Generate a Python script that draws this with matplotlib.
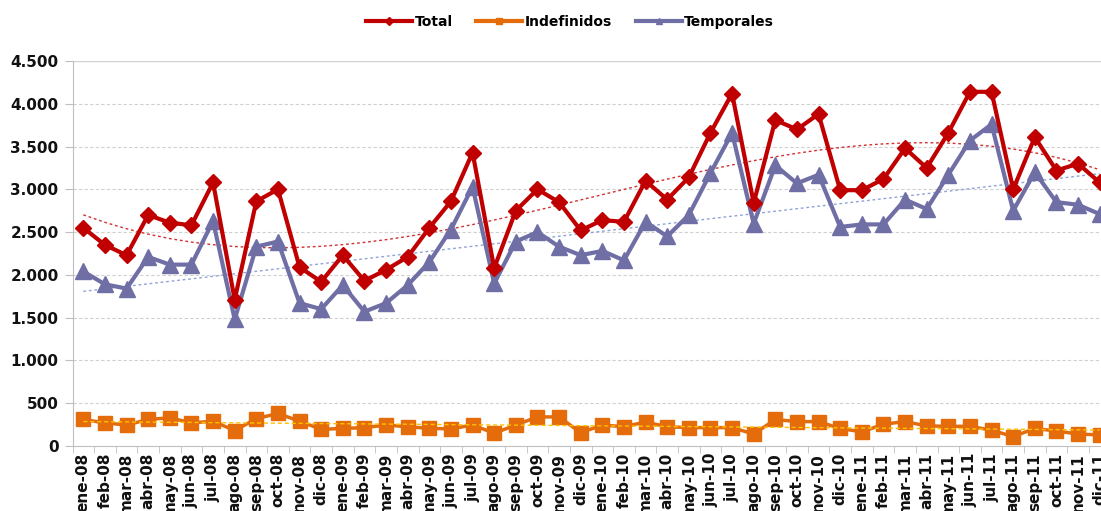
import numpy as np
import matplotlib
matplotlib.use("Agg")
import matplotlib.pyplot as plt
from matplotlib.lines import Line2D

months = ["ene", "feb", "mar", "abr", "may", "jun", "jul", "ago", "sep", "oct", "nov", "dic"]
years = ["08", "09", "10", "11"]
labels = [f"{m}-{y}" for y in years for m in months]

total = [2550, 2350, 2230, 2700, 2610, 2580, 3080, 1710, 2860, 3000, 2090, 1920,
         2230, 1930, 2060, 2210, 2550, 2860, 3430, 2080, 2750, 3000, 2850, 2520,
         2640, 2620, 3100, 2880, 3140, 3660, 4120, 2840, 3810, 3700, 3880, 2990,
         2990, 3120, 3480, 3250, 3660, 4140, 4140, 3000, 3610, 3220, 3300, 3080]
indefinidos = [310, 270, 245, 310, 330, 270, 290, 180, 320, 380, 290, 195,
               205, 215, 245, 225, 206, 200, 245, 150, 245, 340, 340, 155,
               245, 226, 280, 225, 215, 215, 215, 140, 310, 285, 285, 205,
               165, 255, 285, 235, 230, 230, 185, 110, 205, 175, 140, 130]
temporales = [2040, 1890, 1840, 2210, 2120, 2120, 2630, 1480, 2330, 2390, 1670, 1600,
              1880, 1570, 1670, 1880, 2150, 2530, 3030, 1900, 2390, 2500, 2330, 2230,
              2280, 2170, 2620, 2450, 2700, 3190, 3660, 2600, 3280, 3070, 3170, 2560,
              2590, 2590, 2880, 2770, 3170, 3570, 3760, 2750, 3200, 2850, 2820, 2710]

c_total = "#C00000"
c_ind = "#E46C0A"
c_temp = "#6F6FA6"

fig = plt.figure(figsize=(11.01, 5.11), dpi=100)
ax = fig.add_axes([72.5 / 1101, 65 / 511, 1038 / 1101, 385 / 511])

x = np.arange(len(labels))

# trend lines (Excel-style)
pt = np.polyfit(x, total, 3)
ax.plot(x, np.polyval(pt, x), color="#D03030", lw=1.0, ls=(0, (2, 2)), zorder=2)
pb = np.polyfit(x, temporales, 1)
ax.plot(x, np.polyval(pb, x), color="#8FA3D6", lw=1.0, ls=(0, (2, 2)), zorder=2)
po = np.polyfit(x, indefinidos, 1)
ax.plot(x, np.polyval(po, x), color="#FFC000", lw=1.0, ls=(0, (3, 2)), zorder=4)

ax.plot(x, temporales, color=c_temp, lw=3.0, marker="^", ms=11, mec=c_temp, mfc=c_temp, zorder=3)
ax.plot(x, indefinidos, color=c_ind, lw=2.5, marker="s", ms=10, mec=c_ind, mfc=c_ind, zorder=3)
ax.plot(x, total, color=c_total, lw=3.0, marker="D", ms=8, mec=c_total, mfc=c_total, zorder=3)

ax.set_xlim(-0.5, len(labels) - 0.5)
ax.set_ylim(0, 4500)
ax.set_yticks(np.arange(0, 4501, 500))
ax.set_yticklabels([f"{v:,}".replace(",", ".") for v in range(0, 4501, 500)],
                   fontsize=11, fontweight="bold", color="#111111")
ax.set_xticks(x)
ax.set_xticklabels(labels, rotation=90, fontsize=11, fontweight="bold", color="#111111")
ax.set_xticks(np.arange(-0.5, len(labels), 1), minor=True)
ax.tick_params(axis="x", which="major", length=0, pad=5)
ax.tick_params(axis="x", which="minor", length=5, color="#BFBFBF")
ax.tick_params(axis="y", length=6, color="#BFBFBF", pad=4)

for v in range(500, 4500, 500):
    ax.axhline(v, color="#D0D0D0", lw=0.8, ls=(0, (3, 2)), zorder=1)
ax.axhline(4500, color="#D0D0D0", lw=1.0, zorder=1)

for s in ["top", "right"]:
    ax.spines[s].set_visible(False)
ax.spines["left"].set_color("#BFBFBF")
ax.spines["bottom"].set_color("#BFBFBF")

handles = [
    Line2D([], [], color=c_total, lw=3, marker="D", ms=4),
    Line2D([], [], color=c_ind, lw=3, marker="s", ms=5),
    Line2D([], [], color=c_temp, lw=3, marker="^", ms=5),
]
fig.legend(handles, ["Total", "Indefinidos", "Temporales"], loc="center",
           bbox_to_anchor=(570 / 1101, 1 - 22 / 511), ncol=3, frameon=False,
           prop={"weight": "bold", "size": 10}, handlelength=3.3,
           columnspacing=1.7, handletextpad=0.2)

fig.savefig("out.png", dpi=100)
